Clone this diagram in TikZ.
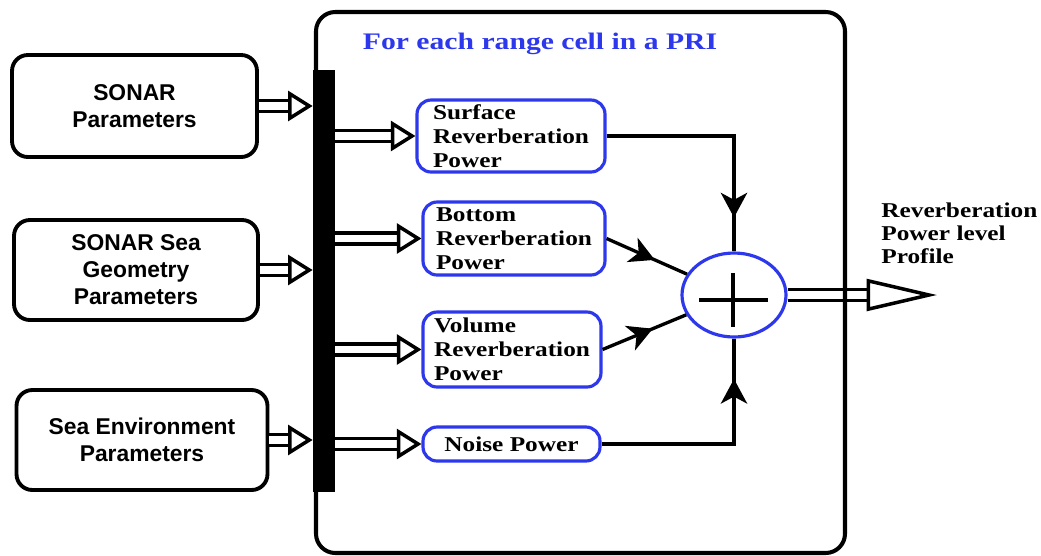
\documentclass[tikz,border=0pt]{standalone}
\usepackage{fontspec}
\setmainfont{Liberation Serif}
\newfontfamily\parfont{Liberation Sans}
\newfontfamily\pwrfont[FakeStretch=1.2]{Liberation Serif}
\newfontfamily\titlefont[FakeStretch=1.25]{Liberation Serif}
\usetikzlibrary{positioning,arrows.meta,calc,shapes.geometric,decorations.markings}
\definecolor{pwrblue}{RGB}{45,55,235}

\begin{document}
\begin{tikzpicture}[x=0.02cm, y=-0.02cm,
  param/.style={draw, rounded corners=9pt, line width=2.2pt, fill=white, align=center, inner sep=0pt, font=\parfont\bfseries\fontsize{13}{15.3}\selectfont},
  pwr/.style={draw=pwrblue, rounded corners=8pt, line width=1.8pt, fill=white, align=left, inner sep=1pt, font=\pwrfont\bfseries\fontsize{12}{13.6}\selectfont},
  sumnode/.style={ellipse, draw=pwrblue, line width=1.8pt, fill=white, inner sep=0pt, minimum width=2.08cm, minimum height=1.68cm},
  dbl/.style={draw, line width=2pt, double distance=4.5pt, -{Triangle[open, length=14pt, width=17pt, line width=2pt]}},
  conn/.style={draw, line width=1.9pt},
  midarr/.style={decoration={markings, mark=at position #1 with {\arrow{Stealth[length=14pt, width=15pt, inset=4pt]}}}, postaction={decorate}}
]
\useasboundingbox (0,0) rectangle (1041,555);
% input parameter blocks
\node[param, minimum width=4.9cm, minimum height=2.04cm] (sonar) at (134.5,106) {SONAR\\Parameters};
\node[param, minimum width=4.88cm, minimum height=2.0cm] (geom) at (136,270) {SONAR Sea\\Geometry\\Parameters};
\node[param, minimum width=5.02cm, minimum height=2.0cm] (seaenv) at (142,440) {Sea Environment\\Parameters};
\node[fill=black, inner sep=0pt, minimum width=0.44cm, minimum height=8.44cm] (bar) at (324,281) {};
% power blocks
\node[pwr, minimum width=3.76cm, minimum height=1.44cm] (surf) at (511,136) {Surface\\Reverberation\\Power};
\node[pwr, minimum width=3.64cm, minimum height=1.46cm] (bot) at (514,238.5) {Bottom\\Reverberation\\Power};
\node[pwr, minimum width=3.56cm, minimum height=1.5cm] (vol) at (512,349.5) {Volume\\Reverberation\\Power};
\node[pwr, minimum width=3.54cm, minimum height=0.68cm] (noise) at (511.5,444) {Noise Power};
\node[sumnode] (sum) at (734,295) {};
\draw[line width=2.3pt] ($(sum.center)+(-35,5)$) -- ($(sum.center)+(34,5)$);
\draw[line width=2.3pt] ($(sum.center)+(-1,-22)$) -- ($(sum.center)+(-1,32)$);
\node[font=\titlefont\bfseries\fontsize{13.5}{15}\selectfont, text=pwrblue] (title) at (540,44) {For each range cell in a PRI};
\node[anchor=north west, align=left, inner sep=0pt, font=\pwrfont\bfseries\fontsize{12}{13}\selectfont] (outlbl) at (881,203) {Reverberation\\Power level\\Profile};
\coordinate (outp) at (937,295);
% arrows
\draw[dbl] (sonar.east) -- (sonar.east -| bar.west);
\draw[dbl] (geom.east) -- (geom.east -| bar.west);
\draw[dbl] (seaenv.east) -- (seaenv.east -| bar.west);
\draw[dbl] (bar.east |- surf.west) -- (surf.west);
\draw[dbl] (bar.east |- bot.west) -- (bot.west);
\draw[dbl] (bar.east |- vol.west) -- (vol.west);
\draw[dbl] (bar.east |- noise.west) -- (noise.west);
\draw[conn, midarr=0.86] (surf.east) -| (sum.north);
\draw[conn, midarr=0.6] (bot.east) -- (sum);
\draw[conn, midarr=0.6] (vol.east) -- (sum);
\draw[conn, midarr=0.83] (noise.east) -| (sum.south);
\draw[dbl, -{Triangle[open, length=40pt, width=18pt, line width=2pt]}] (sum.east) -- (outp);
% outer frame
\draw[line width=2.3pt, rounded corners=11pt] (316,12) rectangle (845,553);
\end{tikzpicture}
\end{document}
